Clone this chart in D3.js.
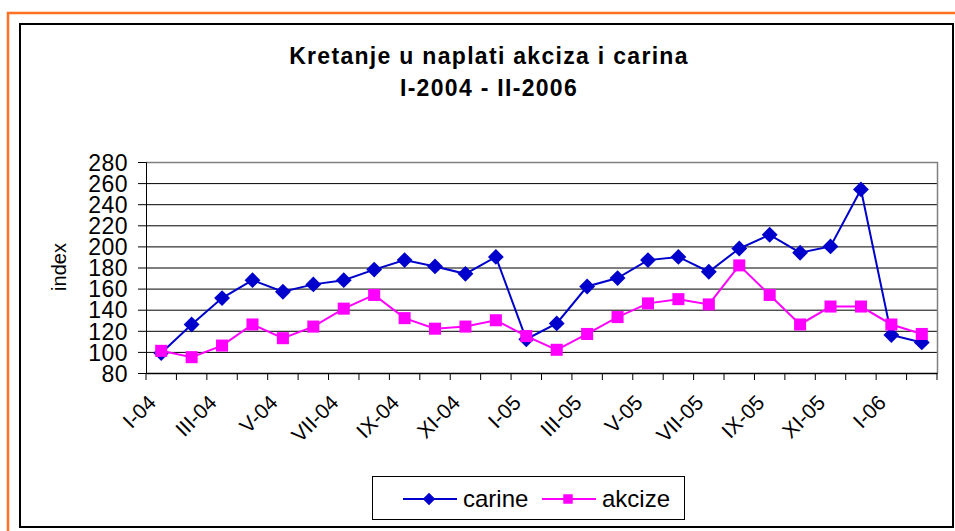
<!DOCTYPE html>
<html>
<head>
<meta charset="utf-8">
<script src="https://cdn.jsdelivr.net/npm/d3@7"></script>
<style>
  body { margin: 0; background: #fff; }
  svg { display: block; font-family: "Liberation Sans", Arial, sans-serif; }
</style>
</head>
<body>
<div class="container"></div>
<script>
const WIDTH = 955;
const HEIGHT = 531;
const PLOT_LEFT = 146;
const PLOT_TOP = 162;
const INNERWIDTH = 791;
const INNERHEIGHT = 211;

var months = ["I-04","II-04","III-04","IV-04","V-04","VI-04","VII-04","VIII-04","IX-04","X-04","XI-04","XII-04",
              "I-05","II-05","III-05","IV-05","V-05","VI-05","VII-05","VIII-05","IX-05","X-05","XI-05","XII-05",
              "I-06","II-06"];
var carine = [99,126,151,168,157,164,168,178,187,181,174,190,112,127,162,170,187,190,176,198,211,194,200,254,116,109];
var akcize = [101,95,106,126,113,124,141,154,132,122,124,130,115,102,117,133,146,150,145,182,154,126,143,143,126,117];
var yTicks = [80,100,120,140,160,180,200,220,240,260,280];
var titleLines = ["Kretanje u naplati akciza i carina", "I-2004 - II-2006"];

var translate = function(x, y){
	return "translate(" + x + ", " + y + ")";
};

var diamond = d3.symbol().type(d3.symbolDiamond2).size(160);
var square = d3.symbol().type(d3.symbolSquare).size(145);

var drawSeries = function(selection, values, xScale, yScale, color, symbol){
	var line = d3.line()
		.x(function(d, i){ return xScale(months[i]) + xScale.bandwidth()/2; })
		.y(function(d){ return yScale(d); });
	selection.append("path")
		.attr("d", line(values))
		.style("fill", "none")
		.style("stroke", color)
		.style("stroke-width", 2);
	selection.selectAll(null).data(values)
		.enter()
		.append("path")
		.attr("d", symbol)
		.attr("transform", function(d, i){ return translate(xScale(months[i]) + xScale.bandwidth()/2, yScale(d)); })
		.style("fill", color);
};

var load = function(){
	var svg = d3.select(".container").append("svg")
		.attr("width", WIDTH)
		.attr("height", HEIGHT);

	// orange outer frame and chart border
	svg.append("path")
		.attr("d", "M8,531 L8,13 L955,13")
		.style("fill", "none")
		.style("stroke", "#ff7020")
		.style("stroke-width", 2.5);
	svg.append("rect")
		.attr("x", 20).attr("y", 24)
		.attr("width", 933).attr("height", 503)
		.style("fill", "#fff")
		.style("stroke", "#000")
		.style("stroke-width", 2);

	// title
	svg.append("text")
		.attr("text-anchor", "middle")
		.style("font-weight", "bold")
		.style("font-size", "23px")
		.style("letter-spacing", "1.3px")
		.selectAll("tspan").data(titleLines)
		.enter().append("tspan")
		.attr("x", 489)
		.attr("y", function(d, i){ return 64 + i*32; })
		.text(function(d){ return d; });

	var xScale = d3.scaleBand().domain(months).range([0, INNERWIDTH]);
	var yScale = d3.scaleLinear().domain([80, 280]).range([INNERHEIGHT, 0]);

	var plot = svg.append("g").attr("transform", translate(PLOT_LEFT, PLOT_TOP));

	// gridlines
	plot.selectAll(".grid").data(yTicks.slice(1, -1))
		.enter().append("line")
		.attr("x1", 0).attr("x2", INNERWIDTH)
		.attr("y1", function(d){ return yScale(d) + 0.5; })
		.attr("y2", function(d){ return yScale(d) + 0.5; })
		.style("stroke", "#000");

	// plot border (top and right grey)
	plot.append("path")
		.attr("d", "M0,0.5 L" + (INNERWIDTH + 0.5) + ",0.5 L" + (INNERWIDTH + 0.5) + "," + INNERHEIGHT)
		.style("fill", "none")
		.style("stroke", "#808080")
		.style("stroke-width", 1.5);

	// y axis
	var yAxis = d3.axisLeft(yScale).tickValues(yTicks).tickSize(8).tickPadding(10);
	var yAxisGroup = plot.append("g").call(yAxis);
	yAxisGroup.selectAll("text").style("font-size", "23px").style("letter-spacing", "0.5px").style("fill", "#000").attr("dy", "0.36em");
	yAxisGroup.selectAll("line, path").style("stroke", "#000");

	// x axis: tick marks between months, labels every other month
	var xAxis = d3.axisBottom(xScale)
		.tickValues(months.filter(function(d, i){ return i % 2 === 0; }))
		.tickSize(0)
		.tickPadding(0);
	var xAxisGroup = plot.append("g").attr("transform", translate(0, INNERHEIGHT)).call(xAxis);
	xAxisGroup.select(".domain").style("stroke", "#000").style("stroke-width", 1.5);
	xAxisGroup.selectAll("text")
		.style("font-size", "21px")
		.style("fill", "#000")
		.attr("text-anchor", "end")
		.attr("y", 0).attr("dy", 0)
		.attr("transform", "translate(-4, 31) rotate(-45)");
	xAxisGroup.selectAll(".tickmark").data(months.concat(["end"]))
		.enter().append("line")
		.attr("x1", function(d, i){ return i * xScale.step(); })
		.attr("x2", function(d, i){ return i * xScale.step(); })
		.attr("y1", 0).attr("y2", 7)
		.style("stroke", "#000");

	// axis title
	svg.append("text")
		.attr("transform", translate(66, 267) + " rotate(-90)")
		.attr("text-anchor", "middle")
		.style("font-size", "20px")
		.text("index");

	// series
	drawSeries(plot.append("g"), carine, xScale, yScale, "#0000cc", diamond);
	drawSeries(plot.append("g"), akcize, xScale, yScale, "#ff00ff", square);

	// legend
	var legend = svg.append("g");
	legend.append("rect")
		.attr("x", 372.5).attr("y", 476.5)
		.attr("width", 312).attr("height", 43)
		.style("fill", "#fff")
		.style("stroke", "#000");
	var items = [
		{name: "carine", color: "#0000cc", symbol: d3.symbol().type(d3.symbolDiamond2).size(100), x: 403},
		{name: "akcize", color: "#ff00ff", symbol: d3.symbol().type(d3.symbolSquare).size(90), x: 542}
	];
	var item = legend.selectAll(".item").data(items)
		.enter().append("g")
		.attr("transform", function(d){ return translate(d.x, 499); });
	item.append("line")
		.attr("x1", 0).attr("x2", 54)
		.style("stroke", function(d){ return d.color; })
		.style("stroke-width", 2);
	item.append("path")
		.attr("d", function(d){ return d.symbol(); })
		.attr("transform", translate(26, 0))
		.style("fill", function(d){ return d.color; });
	item.append("text")
		.attr("x", 60).attr("y", 8)
		.style("font-size", "24px")
		.text(function(d){ return d.name; });
};

window.onload = load;
</script>
</body>
</html>
